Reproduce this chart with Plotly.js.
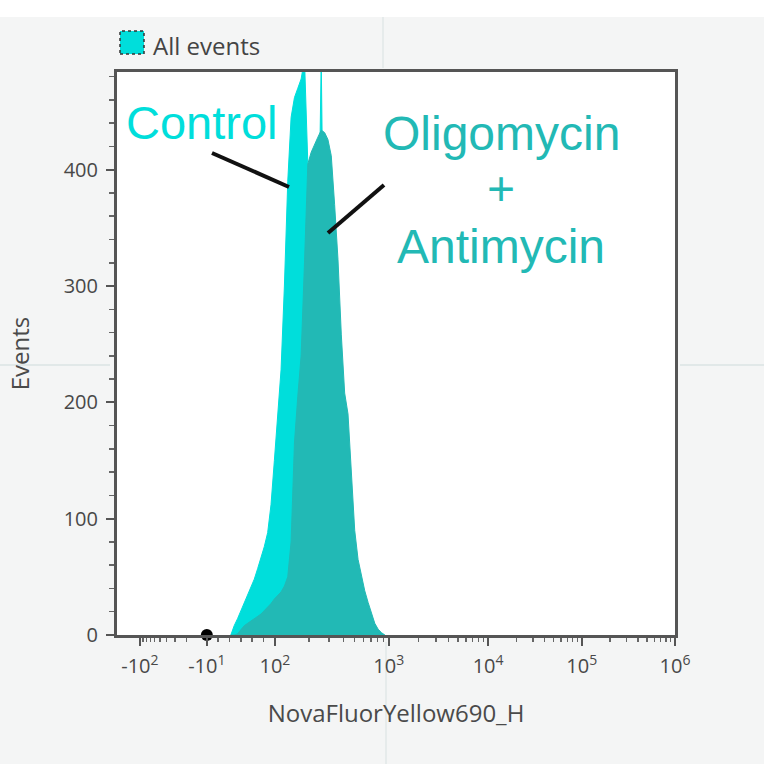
<!DOCTYPE html>
<html><head><meta charset="utf-8">
<script src="https://cdn.plot.ly/plotly-3.0.1.min.js"></script>
<style>html,body{margin:0;padding:0;background:#f4f5f5}</style>
</head><body><div id="chart" style="width:764px;height:764px"></div>
<script>
// Display channel (0..1000) of each histogram bin on the biexponential axis
const binChannels = [204,210,216,222,228,234,240,246,252,258,264,270,276,282,288,294,300,306,312,318,324,330,336,342,348,354,360,366,372,378,384,390,396,402,408,414,420,426,432,438,444,450,456,462,468,474,480];
const controlCounts = [0,8,14,21,28,35,42,48,57,66,76,88,112,150,192,228,300,390,445,462,470,478,495,405,370,340,300,495,250,200,150,105,70,45,28,15,8,3,0,0,0,0,0,0,0,0,0];
const oligoCounts = [0,0,1,5,8,10,12,14,16,18,21,24,27,31,34,37,42,50,80,165,205,240,320,405,415,422,428,434,432,426,412,370,323,258,208,190,140,90,65,52,38,28,18,10,5,2,0];
const xTickChannels = [41,161,283,487,665,833,1000];
const xTickLabels = ['-10<sup>2</sup>','-10<sup>1</sup>','10<sup>2</sup>','10<sup>3</sup>','10<sup>4</sup>','10<sup>5</sup>','10<sup>6</sup>'];
const yTickValues = [0,100,200,300,400];
const dotChannel = [161];
const dotCount = [0];

// minor ticks: log-spaced inside each decade
function minorTicks(){
  const out=[];
  const a=xTickChannels;
  for(let k=2;k<=9;k++) out.push(a[1]-(a[1]-a[0])*Math.log10(k));
  for(let i=1;i<6;i++) out.push(a[1]+(a[2]-a[1])*i/6);
  for(let d=2;d<6;d++) for(let k=2;k<=9;k++) out.push(a[d]+(a[d+1]-a[d])*Math.log10(k));
  return out;
}

const W=764,H=764,L=117,R=675,T=72,B=635;
const px=x=>(x-L)/(R-L), py=y=>(B-y)/(B-T);

const cyan='#00DEDB', teal='#22B9B5';
const traces=[
 {x:binChannels,y:controlCounts,type:'scatter',mode:'lines',fill:'tozeroy',
  line:{color:cyan,width:1,shape:'linear'},fillcolor:cyan,hoverinfo:'skip'},
 {x:binChannels,y:oligoCounts,type:'scatter',mode:'lines',fill:'tozeroy',
  line:{color:teal,width:1,shape:'linear'},fillcolor:teal,hoverinfo:'skip'},
 {x:dotChannel,y:dotCount,type:'scatter',mode:'markers',cliponaxis:false,
  marker:{color:'#000',size:12},hoverinfo:'skip'}
];
const tickFont={family:'Open Sans, sans-serif',size:20,color:'#484848'};
const layout={
 width:W,height:H,margin:{l:L,r:W-R,t:T,b:H-B,pad:0},
 paper_bgcolor:'#f4f5f5',plot_bgcolor:'#ffffff',showlegend:false,hovermode:false,
 xaxis:{range:[0,1000],tickmode:'array',tickvals:xTickChannels,ticktext:xTickLabels,
  ticks:'outside',ticklen:8,tickwidth:2,tickcolor:'#555',showline:true,linecolor:'#555',
  linewidth:3,mirror:true,showgrid:false,zeroline:false,tickfont:tickFont,ticklabelstandoff:3,
  minor:{tickmode:'array',tickvals:minorTicks(),ticks:'outside',ticklen:4,tickwidth:1.5,tickcolor:'#666',showgrid:false},
  title:{text:'NovaFluorYellow690_H',font:{family:'Open Sans, sans-serif',size:24,color:'#4a4a4a'},standoff:28}},
 yaxis:{range:[0,484],tickmode:'array',tickvals:yTickValues,ticks:'outside',ticklen:8,tickwidth:2,
  tickcolor:'#555',showline:true,linecolor:'#555',linewidth:3,mirror:true,showgrid:false,zeroline:false,
  tickfont:tickFont,ticklabelstandoff:4,minor:{dtick:20,ticks:'outside',ticklen:5,tickwidth:1.5,tickcolor:'#666',showgrid:false},
  title:{text:'Events',font:{family:'Open Sans, sans-serif',size:24,color:'#4a4a4a'},standoff:28}},
 shapes:[
  {type:'rect',xref:'paper',yref:'paper',x0:-0.3,x1:1.3,y0:py(17),y1:py(-10),fillcolor:'#ffffff',line:{width:0},layer:'below'},
  {type:'line',xref:'paper',yref:'paper',x0:px(0),x1:px(110),y0:py(365),y1:py(365),line:{color:'#e1e8e8',width:2},layer:'below'},
  {type:'line',xref:'paper',yref:'paper',x0:px(680),x1:px(764),y0:py(365),y1:py(365),line:{color:'#e1e8e8',width:2},layer:'below'},
  {type:'line',xref:'paper',yref:'paper',x0:px(386),x1:px(386),y0:py(642),y1:py(764),line:{color:'#e6ebeb',width:2},layer:'below'},
  {type:'line',xref:'paper',yref:'paper',x0:px(383),x1:px(383),y0:py(17),y1:py(68),line:{color:'#e6ebeb',width:2},layer:'below'},
  {type:'rect',xref:'paper',yref:'paper',x0:px(120),x1:px(144),y0:py(54),y1:py(31),fillcolor:cyan,line:{color:'#333',width:1.5,dash:'dot'}},
  {type:'line',xref:'paper',yref:'paper',x0:px(212),y0:py(153),x1:px(289),y1:py(187),line:{color:'#111',width:4}},
  {type:'line',xref:'paper',yref:'paper',x0:px(384),y0:py(185),x1:px(328),y1:py(233),line:{color:'#111',width:4}}
 ],
 annotations:[
  {text:'All events',xref:'paper',yref:'paper',x:px(151),y:py(45),xanchor:'left',yanchor:'middle',showarrow:false,
   font:{family:'Open Sans, sans-serif',size:24,color:'#444'}},
  {text:'Control',xref:'paper',yref:'paper',x:px(202),y:py(123),xanchor:'center',yanchor:'middle',showarrow:false,
   font:{family:'Liberation Sans, Arial, sans-serif',size:47,color:cyan}},
  {text:'Oligomycin',xref:'paper',yref:'paper',x:px(501),y:py(133),xanchor:'center',yanchor:'middle',showarrow:false,
   font:{family:'Liberation Sans, Arial, sans-serif',size:48,color:teal}},
  {text:'+',xref:'paper',yref:'paper',x:px(501),y:py(188),xanchor:'center',yanchor:'middle',showarrow:false,
   font:{family:'Liberation Sans, Arial, sans-serif',size:48,color:teal}},
  {text:'Antimycin',xref:'paper',yref:'paper',x:px(501),y:py(246),xanchor:'center',yanchor:'middle',showarrow:false,
   font:{family:'Liberation Sans, Arial, sans-serif',size:48,color:teal}}
 ]
};
Plotly.newPlot('chart',traces,layout,{displayModeBar:false,staticPlot:true});
</script></body></html>
